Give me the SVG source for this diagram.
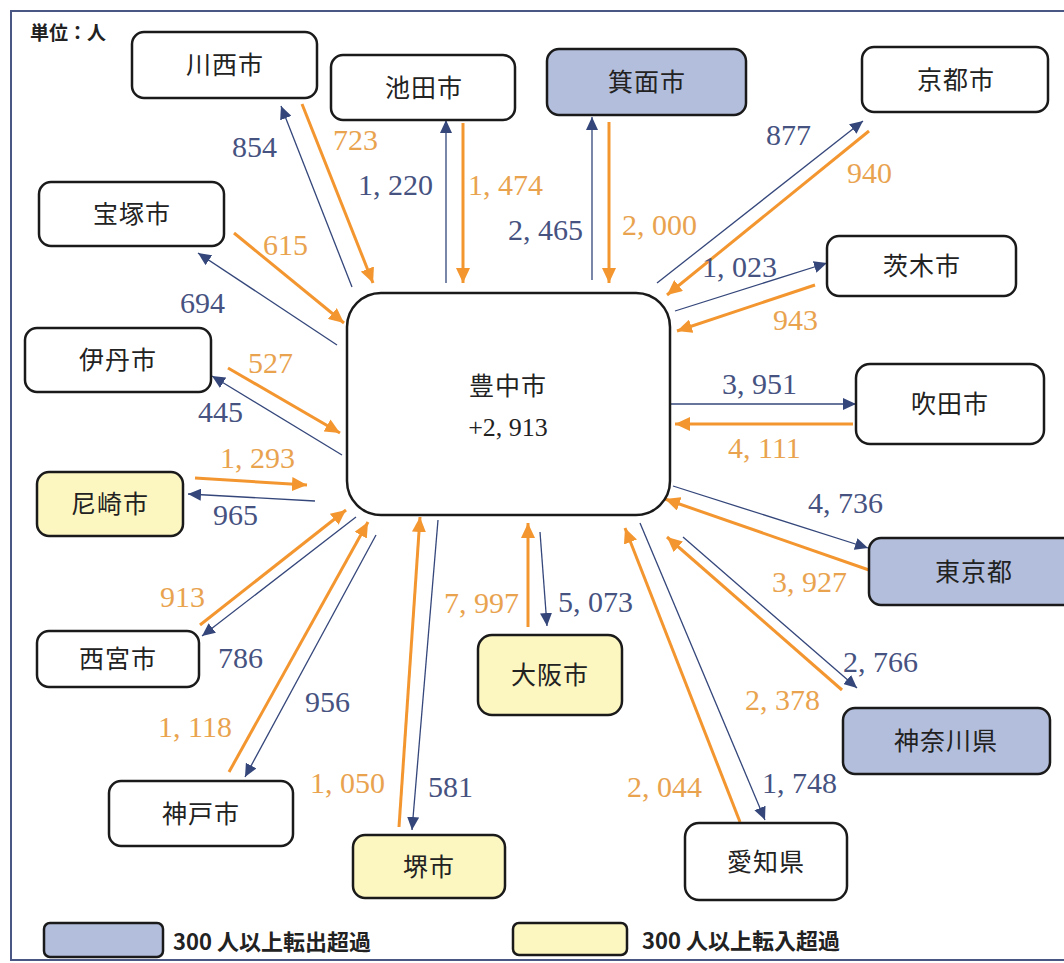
<svg xmlns="http://www.w3.org/2000/svg" width="1064" height="963" viewBox="0 0 1064 963">
<style>
.nd rect{stroke:#1a1a1a;stroke-width:2.5}
.nd text{font-family:"Noto Sans CJK JP","Noto Sans",sans-serif;font-size:25px;fill:#222;text-anchor:middle;letter-spacing:1px}
.w{fill:#fff}.b{fill:#b3bedc}.y{fill:#fcf6c0}
.lb{stroke:#34467a;stroke-width:1.3;fill:none}
.lo{stroke:#f3962f;stroke-width:3;fill:none}
.nb{font-family:"Liberation Serif",serif;font-size:30px;fill:#46527f}
.no{font-family:"Liberation Serif",serif;font-size:30px;fill:#e9a34f}
.lg{font-family:"Noto Sans CJK JP","Noto Sans",sans-serif;font-size:22px;font-weight:bold;fill:#222}
</style>
<defs>
<marker id="ab" markerUnits="userSpaceOnUse" markerWidth="14" markerHeight="12" refX="13" refY="6" orient="auto"><path d="M0,0 L13,6 L0,12 z" fill="#34467a"/></marker>
<marker id="ao" markerUnits="userSpaceOnUse" markerWidth="16" markerHeight="14" refX="15" refY="7" orient="auto"><path d="M0,0 L15,7 L0,14 z" fill="#f3962f"/></marker>
</defs>
<rect x="0" y="0" width="1064" height="963" fill="#fff"/>
<rect x="11" y="11" width="1080" height="949" fill="#fff" stroke="#4a5684" stroke-width="2"/>
<text x="30" y="40" font-family="'Noto Sans CJK JP',sans-serif" font-size="19" font-weight="bold" fill="#222">単位：人</text>

<g id="connectors">
<line class="lb" x1="352" y1="287" x2="281" y2="106" marker-end="url(#ab)"/>
<line class="lo" x1="302" y1="104" x2="373" y2="283" marker-end="url(#ao)"/>
<line class="lb" x1="446" y1="283" x2="446" y2="120" marker-end="url(#ab)"/>
<line class="lo" x1="463" y1="123" x2="463" y2="283" marker-end="url(#ao)"/>
<line class="lb" x1="592" y1="280" x2="592" y2="117" marker-end="url(#ab)"/>
<line class="lo" x1="609" y1="122" x2="609" y2="283" marker-end="url(#ao)"/>
<line class="lb" x1="657" y1="283" x2="863" y2="121" marker-end="url(#ab)"/>
<line class="lo" x1="869" y1="131" x2="667" y2="295" marker-end="url(#ao)"/>
<line class="lb" x1="675" y1="311" x2="827" y2="263" marker-end="url(#ab)"/>
<line class="lo" x1="815" y1="285" x2="677" y2="331" marker-end="url(#ao)"/>
<line class="lo" x1="234" y1="233" x2="344" y2="323" marker-end="url(#ao)"/>
<line class="lb" x1="337" y1="345" x2="198" y2="253" marker-end="url(#ab)"/>
<line class="lo" x1="228" y1="368" x2="340" y2="433" marker-end="url(#ao)"/>
<line class="lb" x1="342" y1="455" x2="212" y2="376" marker-end="url(#ab)"/>
<line class="lo" x1="195" y1="478" x2="307" y2="485" marker-end="url(#ao)"/>
<line class="lb" x1="315" y1="501" x2="188" y2="494" marker-end="url(#ab)"/>
<line class="lo" x1="200" y1="625" x2="346" y2="510" marker-end="url(#ao)"/>
<line class="lb" x1="356" y1="517" x2="202" y2="636" marker-end="url(#ab)"/>
<line class="lo" x1="229" y1="772" x2="368" y2="522" marker-end="url(#ao)"/>
<line class="lb" x1="376" y1="535" x2="245" y2="777" marker-end="url(#ab)"/>
<line class="lo" x1="399" y1="827" x2="420" y2="517" marker-end="url(#ao)"/>
<line class="lb" x1="438" y1="520" x2="412" y2="830" marker-end="url(#ab)"/>
<line class="lo" x1="528" y1="627" x2="528" y2="523" marker-end="url(#ao)"/>
<line class="lb" x1="540" y1="532" x2="547" y2="626" marker-end="url(#ab)"/>
<line class="lo" x1="740" y1="822" x2="625" y2="528" marker-end="url(#ao)"/>
<line class="lb" x1="640" y1="523" x2="765" y2="820" marker-end="url(#ab)"/>
<line class="lo" x1="842" y1="690" x2="667" y2="537" marker-end="url(#ao)"/>
<line class="lb" x1="683" y1="537" x2="857" y2="688" marker-end="url(#ab)"/>
<line class="lb" x1="673" y1="486" x2="868" y2="548" marker-end="url(#ab)"/>
<line class="lo" x1="869" y1="570" x2="665" y2="499" marker-end="url(#ao)"/>
<line class="lb" x1="670" y1="404" x2="856" y2="404" marker-end="url(#ab)"/>
<line class="lo" x1="853" y1="424" x2="675" y2="424" marker-end="url(#ao)"/>
</g>

<g id="labels">
<text class="nb" x="232" y="157">854</text>
<text class="no" x="333" y="150">723</text>
<text class="nb" x="358" y="195">1, 220</text>
<text class="no" x="468" y="195">1, 474</text>
<text class="nb" x="508" y="240">2, 465</text>
<text class="no" x="622" y="235">2, 000</text>
<text class="nb" x="766" y="145">877</text>
<text class="no" x="847" y="183">940</text>
<text class="nb" x="702" y="277">1, 023</text>
<text class="no" x="773" y="330">943</text>
<text class="no" x="263" y="255">615</text>
<text class="nb" x="180" y="313">694</text>
<text class="no" x="248" y="373">527</text>
<text class="nb" x="198" y="422">445</text>
<text class="no" x="220" y="468">1, 293</text>
<text class="nb" x="213" y="525">965</text>
<text class="no" x="160" y="607">913</text>
<text class="nb" x="218" y="668">786</text>
<text class="no" x="158" y="737">1, 118</text>
<text class="nb" x="305" y="712">956</text>
<text class="no" x="310" y="793">1, 050</text>
<text class="nb" x="428" y="797">581</text>
<text class="no" x="444" y="613">7, 997</text>
<text class="nb" x="558" y="612">5, 073</text>
<text class="no" x="627" y="797">2, 044</text>
<text class="nb" x="762" y="793">1, 748</text>
<text class="no" x="745" y="710">2, 378</text>
<text class="nb" x="843" y="672">2, 766</text>
<text class="nb" x="808" y="513">4, 736</text>
<text class="no" x="772" y="592">3, 927</text>
<text class="nb" x="722" y="394">3, 951</text>
<text class="no" x="728" y="458">4, 111</text>
</g>

<g id="toyonaka" class="nd"><rect class="w" x="347" y="293" width="323" height="222" rx="34"/><text x="508" y="395">豊中市</text><text x="508" y="436" style="font-family:'Liberation Serif',serif;font-size:26px;letter-spacing:0">+2, 913</text></g>
<g id="kawanishi" class="nd"><rect class="w" x="132" y="32" width="185" height="66" rx="12"/><text x="225" y="74">川西市</text></g>
<g id="ikeda" class="nd"><rect class="w" x="331" y="55" width="184" height="65" rx="12"/><text x="424" y="97">池田市</text></g>
<g id="minoh" class="nd"><rect class="b" x="547" y="49" width="199" height="66" rx="12"/><text x="647" y="91">箕面市</text></g>
<g id="kyoto" class="nd"><rect class="w" x="862" y="47" width="186" height="65" rx="12"/><text x="956" y="89">京都市</text></g>
<g id="ibaraki" class="nd"><rect class="w" x="827" y="236" width="189" height="60" rx="12"/><text x="922" y="275">茨木市</text></g>
<g id="takarazuka" class="nd"><rect class="w" x="39" y="182" width="185" height="64" rx="12"/><text x="132" y="223">宝塚市</text></g>
<g id="itami" class="nd"><rect class="w" x="25" y="328" width="186" height="64" rx="12"/><text x="118" y="369">伊丹市</text></g>
<g id="amagasaki" class="nd"><rect class="y" x="37" y="472" width="146" height="64" rx="12"/><text x="110" y="513">尼崎市</text></g>
<g id="suita" class="nd"><rect class="w" x="856" y="364" width="188" height="80" rx="14"/><text x="950" y="413">吹田市</text></g>
<g id="tokyo" class="nd"><rect class="b" x="869" y="538" width="210" height="67" rx="12"/><text x="974" y="581">東京都</text></g>
<g id="kanagawa" class="nd"><rect class="b" x="843" y="708" width="207" height="66" rx="12"/><text x="946" y="750">神奈川県</text></g>
<g id="aichi" class="nd"><rect class="w" x="685" y="823" width="162" height="77" rx="14"/><text x="766" y="871">愛知県</text></g>
<g id="osaka" class="nd"><rect class="y" x="478" y="635" width="144" height="80" rx="14"/><text x="550" y="684">大阪市</text></g>
<g id="sakai" class="nd"><rect class="y" x="353" y="835" width="152" height="63" rx="12"/><text x="429" y="876">堺市</text></g>
<g id="kobe" class="nd"><rect class="w" x="109" y="781" width="184" height="65" rx="12"/><text x="201" y="823">神戸市</text></g>
<g id="nishinomiya" class="nd"><rect class="w" x="37" y="631" width="162" height="56" rx="12"/><text x="118" y="668">西宮市</text></g>

<g id="legend">
<rect x="44" y="923" width="119" height="34" rx="6" fill="#b3bedc" stroke="#1a1a1a" stroke-width="2.5"/>
<text class="lg" x="173" y="950">300 人以上転出超過</text>
<rect x="513" y="923" width="114" height="32" rx="6" fill="#fcf6c0" stroke="#1a1a1a" stroke-width="2.5"/>
<text class="lg" x="642" y="949">300 人以上転入超過</text>
</g>
</svg>
